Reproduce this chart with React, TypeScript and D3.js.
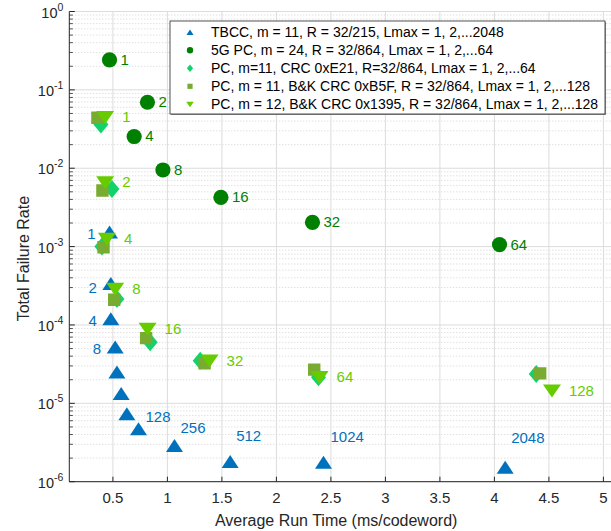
import React from "react";
import * as d3 from "d3";

// ---------- data ----------
const lmaxTBCC = [1, 2, 4, 8, 16, 32, 64, 128, 256, 512, 1024, 2048];
const tbccX = [0.469, 0.481, 0.481, 0.521, 0.537, 0.576, 0.628, 0.735, 1.065, 1.576, 2.432, 4.099];
const tbccY = [1.52e-3, 3.34e-4, 1.19e-4, 5.18e-5, 2.48e-5, 1.32e-5, 7.3e-6, 4.7e-6, 2.88e-6, 1.8e-6, 1.76e-6, 1.52e-6];
const tbccShown = ["1", "2", "4", "8", "", "", "", "128", "256", "512", "1024", "2048"];

const lmax5G = [1, 2, 4, 8, 16, 32, 64];
const g5X = [0.469, 0.817, 0.695, 0.959, 1.491, 2.331, 4.047];
const g5Y = [0.242, 0.0695, 0.0254, 9.5e-3, 4.26e-3, 2.04e-3, 1.06e-3];

const diaX = [0.39, 0.491, 0.399, 0.537, 0.842, 1.301, 2.386, 4.384];
const diaY = [0.0361, 5.45e-3, 1.0e-3, 2.15e-4, 6.0e-5, 3.5e-5, 2.15e-5, 2.37e-5];

const sqX = [0.358, 0.404, 0.414, 0.512, 0.805, 1.341, 2.347, 4.42];
const sqY = [0.044, 5.19e-3, 9.8e-4, 2.1e-4, 6.8e-5, 3.24e-5, 2.69e-5, 2.41e-5];

const lmaxPC12 = [1, 2, 4, 8, 16, 32, 64, 128];
const tdX = [0.429, 0.429, 0.445, 0.521, 0.818, 1.387, 2.396, 4.528];
const tdY = [0.0448, 6.6e-3, 1.25e-3, 2.88e-4, 8.9e-5, 3.5e-5, 2.15e-5, 1.45e-5];

const legendLabels = [
  "TBCC, m = 11, R = 32/215, Lmax = 1, 2,...2048",
  "5G PC, m = 24, R = 32/864, Lmax = 1, 2,...64",
  "PC, m=11, CRC 0xE21, R=32/864, Lmax = 1, 2,...64",
  "PC, m = 11, B&K CRC 0xB5F, R = 32/864, Lmax = 1, 2,...128",
  "PC, m = 12, B&K CRC 0x1395, R = 32/864, Lmax = 1, 2,...128",
];
const xTicks = [0.5, 1, 1.5, 2, 2.5, 3, 3.5, 4, 4.5, 5];
const yExponents = [0, -1, -2, -3, -4, -5, -6];

// ---------- styling / layout ----------
const W = 611, H = 531;
const left = 69.3, right = 614.3, top = 11.5, bottom = 481.7;
const colors = ["#0072BD", "#008000", "#12D36B", "#77AC30", "#66CC00"];
const FONT = "'Liberation Sans', Arial, Helvetica, sans-serif";

// TBCC label placement [dx, dy, anchor]
const tbccLabelPos: [number, number, string][] = [
  [-14, 3, "end"], [-14, 5, "end"], [-14, 3, "end"], [-14, 3, "end"],
  [0, 0, "start"], [0, 0, "start"], [0, 0, "start"],
  [7, -11, "start"], [6, -17, "start"], [6, -25, "start"], [7, -24, "start"], [6, -28, "start"],
];

function markerPath(kind: string, s = 1) {
  if (kind === "triUp") {
    const p = d3.path();
    p.moveTo(0, -6.8 * s); p.lineTo(8.5 * s, 6.2 * s); p.lineTo(-8.5 * s, 6.2 * s); p.closePath();
    return p.toString();
  }
  if (kind === "triDown") {
    const p = d3.path();
    p.moveTo(0, 6.8 * s); p.lineTo(9 * s, -6.2 * s); p.lineTo(-9 * s, -6.2 * s); p.closePath();
    return p.toString();
  }
  if (kind === "diamond") {
    const p = d3.path();
    p.moveTo(0, -9 * s); p.lineTo(7.5 * s, 0); p.lineTo(0, 9 * s); p.lineTo(-7.5 * s, 0); p.closePath();
    return p.toString();
  }
  if (kind === "square") {
    const h = 6.2 * s;
    const p = d3.path();
    p.rect(-h, -h, 2 * h, 2 * h);
    return p.toString();
  }
  const p = d3.path();
  p.arc(0, 0, 7.6 * s, 0, 2 * Math.PI);
  return p.toString();
}

export default function App() {
  const x = d3.scaleLinear().domain([0.1, 5.1]).range([left, right]);
  const y = d3.scaleLog().domain([1e-6, 1]).range([bottom, top]);

  const minorY: number[] = [];
  for (let e = -6; e < 0; e++) for (let k = 2; k <= 9; k++) minorY.push(k * Math.pow(10, e));

  const series = [
    { xs: tbccX, ys: tbccY, kind: "triUp", color: colors[0] },
    { xs: g5X, ys: g5Y, kind: "circle", color: colors[1] },
    { xs: diaX, ys: diaY, kind: "diamond", color: colors[2] },
    { xs: sqX, ys: sqY, kind: "square", color: colors[3] },
    { xs: tdX, ys: tdY, kind: "triDown", color: colors[4] },
  ];

  return (
    <svg width={W} height={H} style={{ position: "absolute", left: 0, top: 0, fontFamily: FONT }}>
      <rect width={W} height={H} fill="#fff" />
      <defs>
        <clipPath id="plot">
          <rect x={left} y={top - 10} width={W - left} height={bottom - top + 10} />
        </clipPath>
      </defs>
      {/* minor grid */}
      {minorY.map((v, i) => (
        <line key={"mg" + i} x1={left} x2={W} y1={y(v)} y2={y(v)} stroke="#c8c8c8" strokeWidth={0.8} strokeDasharray="1 2" />
      ))}
      {/* major grid */}
      {yExponents.map((e) => (
        <line key={"yg" + e} x1={left} x2={W} y1={y(Math.pow(10, e))} y2={y(Math.pow(10, e))} stroke="#dcdcdc" strokeWidth={1} />
      ))}
      {xTicks.map((t) => (
        <line key={"xg" + t} x1={x(t)} x2={x(t)} y1={top} y2={bottom} stroke="#dcdcdc" strokeWidth={1} />
      ))}

      {/* axes */}
      <line x1={left} x2={left} y1={top} y2={bottom} stroke="#262626" strokeWidth={1} />
      <line x1={left} x2={W} y1={bottom} y2={bottom} stroke="#262626" strokeWidth={1} />
      {xTicks.map((t) => (
        <g key={"xt" + t}>
          <line x1={x(t)} x2={x(t)} y1={bottom} y2={bottom - 5} stroke="#262626" strokeWidth={1} />
          <text x={x(t)} y={bottom + 21.5} textAnchor="middle" fontSize={15} fill="#262626">{t}</text>
        </g>
      ))}
      {yExponents.map((e) => (
        <g key={"yt" + e}>
          <line x1={left} x2={left + 5.5} y1={y(Math.pow(10, e))} y2={y(Math.pow(10, e))} stroke="#262626" strokeWidth={1} />
          <text x={left - 6} y={y(Math.pow(10, e)) + 6} textAnchor="end" fontSize={14.5} fill="#262626">
            10<tspan dy={-7} fontSize={10.5}>{e}</tspan>
          </text>
        </g>
      ))}
      {minorY.map((v, i) => (
        <line key={"mt" + i} x1={left} x2={left + 3.5} y1={y(v)} y2={y(v)} stroke="#262626" strokeWidth={0.8} />
      ))}

      {/* axis labels */}
      <text x={(left + 603) / 2} y={526} textAnchor="middle" fontSize={16} fill="#262626">Average Run Time (ms/codeword)</text>
      <text transform={`translate(29, ${(top + bottom) / 2 + 12}) rotate(-90)`} textAnchor="middle" fontSize={16} fill="#262626">Total Failure Rate</text>

      {/* data */}
      <g clipPath="url(#plot)">
        {series.map((s, si) => (
          <g key={"s" + si}>
            {s.xs.map((xv, i) => (
              <path key={i} d={markerPath(s.kind)} transform={`translate(${x(xv)},${y(s.ys[i])})`} fill={s.color} />
            ))}
          </g>
        ))}
        {/* labels */}
        {lmaxTBCC.map((l, i) =>
          tbccShown[i] ? (
            <text key={"tl" + l} x={x(tbccX[i]) + tbccLabelPos[i][0]} y={y(tbccY[i]) + tbccLabelPos[i][1]} dominantBaseline="middle"
              textAnchor={tbccLabelPos[i][2]} fontSize={15} fill={colors[0]}>{l}</text>
          ) : null
        )}
        {lmax5G.map((l, i) => (
          <text key={"gl" + l} x={x(g5X[i]) + 11} y={y(g5Y[i]) + 1} dominantBaseline="middle" fontSize={15} fill={colors[1]}>{l}</text>
        ))}
        {lmaxPC12.map((l, i) => (
          <text key={"pl" + l} x={x(tdX[i]) + 17} y={y(tdY[i]) + 1} dominantBaseline="middle" fontSize={15} fill={colors[4]}>{l}</text>
        ))}
      </g>

      {/* legend */}
      <g>
        <rect x={171} y={22} width={435} height={93} fill="#999" />
        <rect x={170} y={21} width={435} height={93} fill="#fff" stroke="#262626" strokeWidth={0.8} />
        {legendLabels.map((lab, i) => (
          <g key={"lg" + i} transform={`translate(0, ${32.3 + i * 18})`}>
            <path d={markerPath(series[i].kind, 0.42)} transform="translate(190,0)" fill={series[i].color} />
            <text x={211} y={1} dominantBaseline="middle" fontSize={14} fill="#000">{lab}</text>
          </g>
        ))}
      </g>
    </svg>
  );
}
